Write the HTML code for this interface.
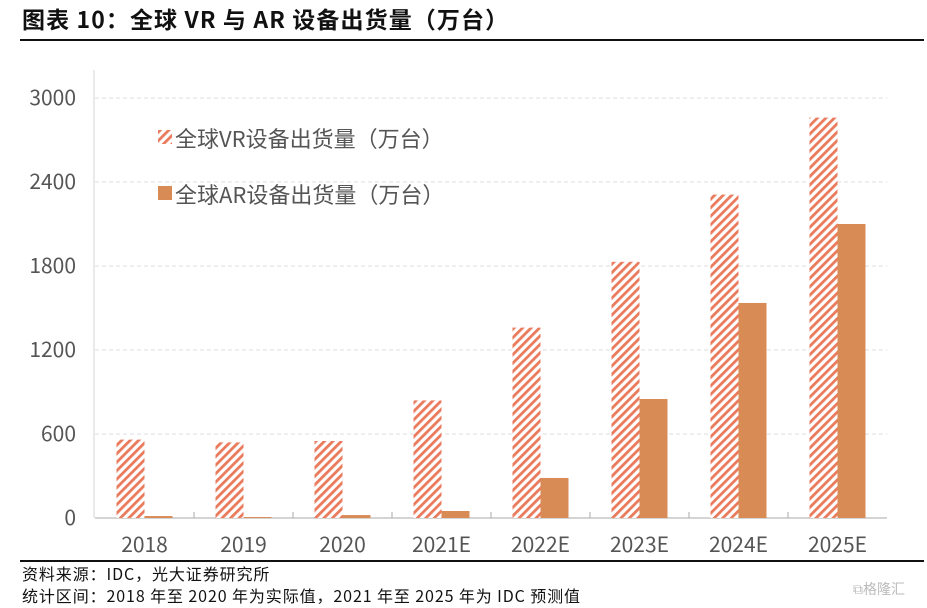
<!DOCTYPE html>
<html><head><meta charset="utf-8"><style>
body{margin:0;width:927px;height:608px;background:#fff;overflow:hidden;font-family:"Noto Sans CJK SC","Liberation Sans",sans-serif}
.t{position:absolute;white-space:nowrap;line-height:1}
</style></head><body>
<div class="t" style="left:22px;top:7px;font-size:23px;font-weight:bold;color:#111;letter-spacing:1.1px">图表 10：全球 VR 与 AR 设备出货量（万台）</div>
<div class="t" style="left:20px;top:39px;width:904px;height:2px;background:#111"></div>
<svg class="t" style="left:0;top:0;font-family:'Noto Sans CJK SC','Liberation Sans',sans-serif" width="927" height="608" id="svg">
<defs><pattern id="hatch" patternUnits="userSpaceOnUse" width="6" height="6" patternTransform="rotate(45)"><rect width="6" height="6" fill="#fff"/><rect width="2.8" height="6" fill="#ea7a5c"/></pattern></defs>
</svg>
<div class="t" style="left:20px;top:560px;width:904px;height:2px;background:#111"></div>
<div class="t" style="left:22px;top:565px;font-size:16px;color:#111;letter-spacing:0.9px">资料来源：IDC，光大证券研究所</div>
<div class="t" style="left:22px;top:587px;font-size:16px;color:#111;letter-spacing:0.9px">统计区间：2018 年至 2020 年为实际值，2021 年至 2025 年为  IDC 预测值</div>
<div class="t" style="left:853px;top:582px;font-size:14px;color:#bbb">⧉格隆汇</div>
<script>
const categories=["2018","2019","2020","2021E","2022E","2023E","2024E","2025E"];
const vrValues=[560,540,550,840,1360,1830,2310,2860];
const arValues=[14,7,21,50,286,850,1536,2100];
const yTicks=[0,600,1200,1800,2400,3000];
const NS="http://www.w3.org/2000/svg",svg=document.getElementById('svg');
const x0=95,x1=887,y0=518,yTop=98,yMax=3000;
const bw=(x1-x0)/categories.length;
const y=v=>y0-(v/yMax)*(y0-yTop);
function mk(t,a,txt){const e=document.createElementNS(NS,t);for(const k in a)e.setAttribute(k,a[k]);if(txt!=null)e.textContent=txt;svg.appendChild(e);return e;}
const va=mk('line',{x1:x0-1,x2:x0-1,y1:70,y2:y0,stroke:'#ddd','stroke-width':1.2});


yTicks.forEach(v=>{
 if(v>0){const g=mk('line',{x1:x0,x2:x1,y1:y(v),y2:y(v),stroke:'#ddd','stroke-dasharray':'4,3'});
 
 }
 const t=mk('text',{x:76,y:y(v)+7,'text-anchor':'end','font-size':21,fill:'#555'},v);
 
 
});
const ax=mk('line',{x1:x0,x2:x1,y1:y0,y2:y0,stroke:'#aaa'});


categories.forEach((c,i)=>{
 const cx=x0+bw*(i+0.5);
 if(i>0){const tk=mk('line',{x1:x0+bw*i,x2:x0+bw*i,y1:y0,y2:y0-6,stroke:'#aaa'});
 
 }
 const vr=mk('rect',{x:cx-28,y:y(vrValues[i]),width:28,height:y0-y(vrValues[i]),fill:'url(#hatch)'});
 
 
 const ar=mk('rect',{x:cx,y:y(arValues[i]),width:28,height:y0-y(arValues[i]),fill:'#d98b56'});
 
 
 const t=mk('text',{x:cx,y:552,'text-anchor':'middle','font-size':21,fill:'#555'},c);
 
 
});
const l1=mk('rect',{x:158,y:130,width:14,height:14,fill:'url(#hatch)'});


const lt1=mk('text',{x:175,y:147,'font-size':22,fill:'#555'},'全球VR设备出货量（万台）');


const l2=mk('rect',{x:158,y:186,width:14,height:14,fill:'#d98b56'});


const lt2=mk('text',{x:175,y:203,'font-size':22,fill:'#555'},'全球AR设备出货量（万台）');


</script>
</body></html>
